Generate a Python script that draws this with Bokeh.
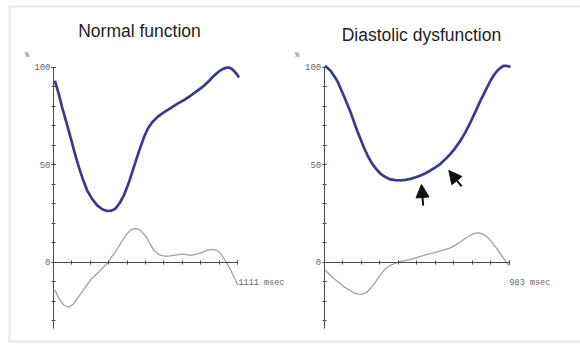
from bokeh.plotting import figure
from bokeh.models import Range1d, LinearAxis, FixedTicker, Label, Arrow, NormalHead, BoxAnnotation
from bokeh.embed import file_html
from bokeh.resources import INLINE

# ---------------- data ----------------
titles = ["Normal function", "Diastolic dysfunction"]
durations = [1111, 983]          # msec, end of x axis
unit_label = "msec"
y_major = [0, 50, 100]
y_minor = [-30, -20, -10, 0, 10, 20, 30, 40, 50, 60, 70, 80, 90, 100]

# Normal function: volume curve (%) and its rate curve
n_vol_t = [8, 30, 52, 78, 103, 128, 153, 178, 203, 234, 264, 294, 324, 350, 374, 400, 425, 455,
           485, 516, 546, 570, 596, 630, 666, 707, 747, 787, 827, 868, 908, 940, 968, 995, 1019,
           1040, 1059, 1075, 1089, 1105, 1120]
n_vol_v = [93.2, 87.0, 79.6, 71.8, 64.2, 56.2, 48.9, 42.5, 37.0, 32.5, 29.3, 27.3, 26.4, 26.6,
           27.6, 30.5, 34.4, 41.0, 48.9, 57.0, 64.2, 68.7, 71.9, 74.8, 77.0, 79.2, 81.3, 83.3,
           85.5, 88.0, 90.6, 93.2, 95.7, 97.7, 99.1, 99.8, 100.0, 99.4, 98.3, 96.8, 94.9]
n_rate_t = [8, 32, 62, 93, 123, 148, 173, 198, 223, 254, 284, 306, 328, 352, 374, 400, 425, 445,
            465, 480, 495, 510, 525, 545, 566, 586, 606, 626, 646, 666, 686, 706, 727, 752, 777,
            802, 827, 852, 878, 903, 928, 948, 968, 983, 998, 1013, 1029, 1044, 1059, 1074,
            1089, 1101, 1113]
n_rate_v = [-14.1, -18.4, -21.8, -23.0, -21.0, -18.0, -15.0, -12.0, -9.0, -6.4, -3.9, -2.0, 0.0,
            3.0, 5.5, 9.0, 12.3, 14.8, 16.5, 17.2, 17.4, 17.2, 16.5, 14.6, 12.3, 9.0, 6.3, 4.8,
            3.7, 3.4, 3.2, 3.4, 3.7, 4.0, 4.3, 4.0, 3.7, 4.0, 4.6, 5.3, 6.3, 6.6, 6.6, 6.3,
            5.5, 4.0, 2.0, 0.0, -2.2, -4.6, -7.3, -9.4, -11.6]

# Diastolic dysfunction: volume curve (%) and its rate curve
d_vol_t = [4, 34, 69, 104, 140, 175, 210, 232, 255, 277, 299, 325, 352, 378, 405, 431, 458, 485,
           511, 538, 564, 590, 617, 643, 670, 696, 723, 750, 776, 803, 829, 856, 882, 900, 918,
           935, 953, 970, 988]
d_vol_v = [100.9, 98.3, 93.2, 85.5, 77.0, 67.6, 59.1, 54.5, 50.6, 47.8, 45.5, 43.8, 42.6, 42.2,
           42.1, 42.4, 42.9, 43.7, 44.6, 45.8, 47.2, 48.8, 50.6, 53.0, 55.7, 58.8, 62.5, 67.0,
           71.9, 77.5, 83.0, 88.3, 93.2, 96.0, 98.3, 99.8, 100.9, 100.8, 100.3]
d_rate_t = [4, 27, 51, 78, 104, 131, 157, 175, 193, 211, 228, 250, 272, 298, 325, 356, 387, 423,
            458, 494, 529, 564, 599, 635, 670, 697, 723, 750, 776, 798, 820, 843, 865, 887,
            909, 931, 953, 967, 980]
d_rate_v = [-3.9, -6.0, -8.2, -10.3, -12.4, -14.0, -15.5, -16.1, -16.4, -16.0, -15.0, -12.8,
            -9.9, -6.4, -3.1, -1.2, 0.0, 0.8, 1.5, 2.6, 3.7, 4.6, 5.5, 6.5, 7.5, 8.9, 10.6,
            12.4, 14.0, 14.9, 15.2, 14.5, 13.1, 10.8, 8.0, 5.0, 2.0, 0.2, -1.7]

# ---------------- figure ----------------
X0, X1 = -271.7, 3182.0
Y0, Y1 = -41.03, 131.79
p = figure(width=580, height=345, output_backend="svg", toolbar_location=None,
           x_range=Range1d(X0, X1), y_range=Range1d(Y0, Y1),
           x_axis_type=None, y_axis_type=None,
           min_border_left=8, min_border_right=0, min_border_top=5, min_border_bottom=3)
p.extra_x_ranges = {"r": Range1d(-1674.8, 1359.7)}
p.outline_line_color = None
p.background_fill_color = "white"
p.border_fill_color = "white"

# picture frame (open on the right, as in the scanned figure)
p.add_layout(BoxAnnotation(left=X0, right=X1 * 3, bottom=Y0, top=Y1,
                           fill_alpha=0, line_color="#adadad", line_width=4))

AXIS_COLOR = "#4a4a4a"
LABEL_COLOR = "#666666"
MONO = "Liberation Mono"


def add_axes(range_name, xmax, title, title_x, title_y, pct_x, lab_dx):
    # vertical axis crossing x = 0
    yax = LinearAxis(x_range_name=range_name, fixed_location=0, bounds=(-34, 100),
                     ticker=FixedTicker(ticks=y_major, minor_ticks=y_minor))
    yax.axis_line_color = AXIS_COLOR
    yax.axis_line_width = 1
    yax.major_tick_line_color = AXIS_COLOR
    yax.minor_tick_line_color = AXIS_COLOR
    yax.major_tick_in = 2
    yax.major_tick_out = 2
    yax.minor_tick_in = 2
    yax.minor_tick_out = 2
    yax.major_label_standoff = 1
    yax.major_label_text_font = MONO
    yax.major_label_text_font_size = "9px"
    yax.major_label_text_color = LABEL_COLOR
    p.add_layout(yax, "left")

    # horizontal axis crossing y = 0
    xticks = [xmax * i / 10 for i in range(11)]
    xax = LinearAxis(x_range_name=range_name, fixed_location=0, bounds=(0, xmax),
                     ticker=FixedTicker(ticks=[xmax], minor_ticks=xticks),
                     major_label_overrides={xmax: ""})
    xax.axis_line_color = AXIS_COLOR
    xax.axis_line_width = 1
    xax.major_tick_line_color = AXIS_COLOR
    xax.minor_tick_line_color = AXIS_COLOR
    xax.major_tick_in = 2
    xax.major_tick_out = 2
    xax.minor_tick_in = 2
    xax.minor_tick_out = 2
    p.add_layout(xax, "below")

    # end-of-axis label, written to the right of the last tick
    p.add_layout(Label(x=xmax, y=0, x_range_name=range_name, text=f"{xmax}   {unit_label}",
                       x_offset=lab_dx, y_offset=-21,
                       text_font=MONO, text_font_size="8.5px", text_color=LABEL_COLOR,
                       text_align="left", text_baseline="middle"))

    p.add_layout(Label(x=title_x, y=title_y, x_range_name=range_name, text=title,
                       text_font="Liberation Sans", text_font_size="17.5px",
                       text_color="#1e1e1e", text_align="center",
                       text_baseline="alphabetic"))
    p.add_layout(Label(x=pct_x, y=106.5, x_range_name=range_name, text="%",
                       text_font=MONO, text_font_size="7px", text_color=LABEL_COLOR,
                       text_align="center", text_baseline="middle"))


add_axes("default", durations[0], titles[0], 519, 118.5, -160, 1)
add_axes("r", durations[1], titles[1], 516, 116.9, -144, 0)

BLUE = "#3a3a8c"
GREY = "#a0a0a0"
p.line(n_rate_t, n_rate_v, line_color=GREY, line_width=1.3)
p.line(n_vol_t, n_vol_v, line_color=BLUE, line_width=2.7)
p.line(d_rate_t, d_rate_v, line_color=GREY, line_width=1.3, x_range_name="r")
p.line(d_vol_t, d_vol_v, line_color=BLUE, line_width=2.7, x_range_name="r")

# arrows pointing at the slowed filling phase
for xs, ys, xe, ye in [(525, 29.2, 516, 40.0), (729, 39.0, 661, 47.2)]:
    p.add_layout(Arrow(end=NormalHead(size=13, fill_color="#111111", line_color="#111111"),
                       x_start=xs, y_start=ys, x_end=xe, y_end=ye, x_range_name="r",
                       line_color="#111111", line_width=2))

open("out.html", "w").write(file_html(p, INLINE))
